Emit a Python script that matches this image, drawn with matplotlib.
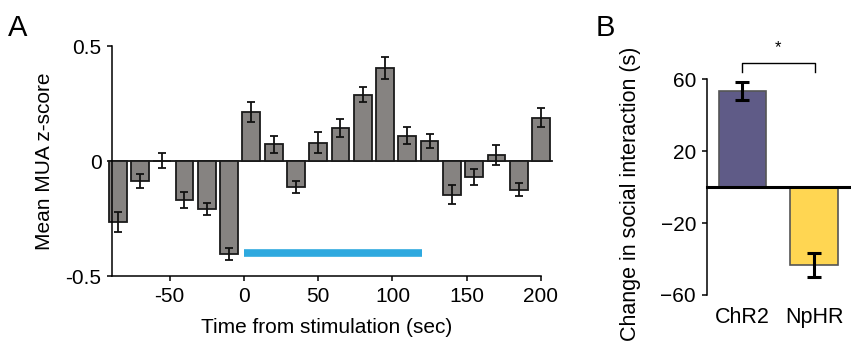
import matplotlib
matplotlib.use("Agg")
import matplotlib.pyplot as plt
import numpy as np

plt.rcParams['font.family'] = ['Liberation Sans', 'DejaVu Sans']

# Panel A data
bin_centers = [-85, -70, -55, -40, -25, -10, 5, 20, 35, 50, 65, 80, 95, 110, 125, 140, 155, 170, 185, 200]
mua_z = [-0.264, -0.087, 0.002, -0.170, -0.210, -0.404, 0.212, 0.072, -0.115, 0.080,
         0.143, 0.289, 0.404, 0.110, 0.087, -0.146, -0.069, 0.025, -0.124, 0.188]
mua_err = [0.043, 0.031, 0.031, 0.035, 0.026, 0.027, 0.043, 0.038, 0.026, 0.047,
           0.039, 0.031, 0.048, 0.038, 0.031, 0.043, 0.035, 0.043, 0.027, 0.042]
stim_start, stim_end, stim_y = 0, 120, -0.40
xticks_a = [-50, 0, 50, 100, 150, 200]
xticklabels_a = ['-50', '0', '50', '100', '150', '200']
yticks_a = [-0.5, 0, 0.5]
yticklabels_a = ['-0.5', '0', '0.5']

# Panel B data
groups = ['ChR2', 'NpHR']
change = [53.3, -43.5]
change_err = [5.1, 6.7]
group_colors = ['#5f5b87', '#ffd652']
yticks_b = [-60, -20, 20, 60]

fig = plt.figure(figsize=(8.51, 3.41), dpi=100)

# ---- Panel A ----
axA = fig.add_axes([0.1316, 0.1906, 0.5041, 0.6745])
axA.bar(bin_centers, mua_z, width=12, color='#868381', edgecolor='#1a1a1a',
        linewidth=1.3, clip_on=False, zorder=2)
axA.errorbar(bin_centers, mua_z, yerr=mua_err, fmt='none', ecolor='#111111',
             elinewidth=1.3, capsize=3, capthick=1.3, clip_on=False, zorder=3)
axA.axhline(0, xmin=0, xmax=1.025, color='#111111', linewidth=1.3, clip_on=False, zorder=1)
axA.plot([stim_start, stim_end], [stim_y, stim_y], color='#2ea9df', linewidth=5.5,
         solid_capstyle='butt', zorder=2)
axA.set_xlim(-88.8, 200)
axA.set_ylim(-0.5, 0.5)
axA.set_xticks(xticks_a)
axA.set_xticklabels(xticklabels_a)
axA.set_yticks(yticks_a)
axA.set_yticklabels(yticklabels_a)
for s in ['top', 'right']:
    axA.spines[s].set_visible(False)
for s in ['left', 'bottom']:
    axA.spines[s].set_linewidth(1.1)
axA.tick_params(direction='out', length=3.6, width=1.1, labelsize=15, pad=4)
axA.set_xlabel('Time from stimulation (sec)', fontsize=15)
axA.set_ylabel('Mean MUA z-score', fontsize=15)
axA.xaxis.set_label_coords(0.5, -0.222)
axA.yaxis.set_label_coords(-0.158, 0.5)
axA.xaxis.label.set_va('center')
axA.yaxis.label.set_va('center')
fig.text(0.0094, 0.894, 'A', fontsize=21, va='baseline')

# ---- Panel B ----
axB = fig.add_axes([0.8304, 0.1349, 0.1684, 0.6334])
xb = np.arange(len(groups))
axB.bar(xb, change, width=0.667, color=group_colors, edgecolor='#555555',
        linewidth=1.2, zorder=2)
axB.errorbar(xb, change, yerr=change_err, fmt='none', ecolor='#000000',
             elinewidth=2.2, capsize=5, capthick=2.2, zorder=3)
axB.axhline(0, color='#000000', linewidth=2.2, clip_on=False, zorder=4)
axB.set_xlim(-0.5, 1.5)
axB.set_ylim(-60, 60)
axB.set_yticks(yticks_b)
axB.set_xticks(xb)
axB.set_xticklabels(groups, fontsize=15.5)
for s in ['top', 'right', 'bottom']:
    axB.spines[s].set_visible(False)
axB.spines['left'].set_linewidth(1.1)
axB.tick_params(axis='y', direction='out', length=3.6, width=1.1, labelsize=15, pad=4)
axB.tick_params(axis='x', length=0, pad=9)
axB.set_ylabel('Change in social interaction (s)', fontsize=15.5)
axB.yaxis.set_label_coords(-0.535, 0.47)
axB.yaxis.label.set_va('center')
# significance bracket
by = 69
axB.plot([0, 0, 1.015, 1.015], [by - 5.2, by, by, by - 5.2], color='#000000',
         linewidth=1.0, clip_on=False)
axB.text(0.5, by + 4, '*', ha='center', va='bottom', fontsize=12, clip_on=False)
fig.text(0.700, 0.894, 'B', fontsize=21, va='baseline')

fig.savefig('out.png', dpi=100)
